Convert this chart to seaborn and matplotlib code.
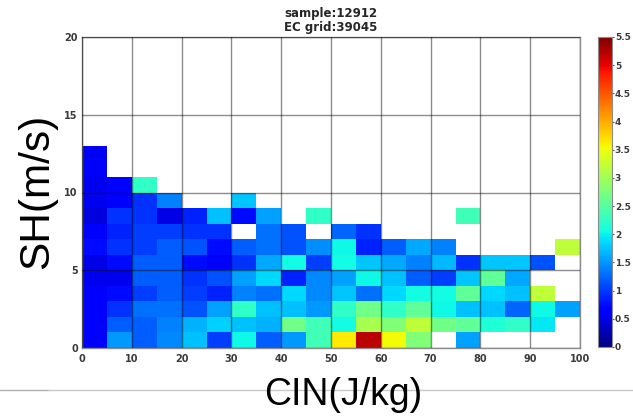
import numpy as np
import pandas as pd
import matplotlib
matplotlib.use("Agg")
import matplotlib.pyplot as plt
import seaborn as sns
from matplotlib.lines import Line2D

nan = np.nan

# bin edges
cin_edges = np.arange(0, 101, 5)      # CIN (J/kg)
sh_edges = np.arange(0, 21, 1)        # SH (m/s)

x_ticks = [0, 10, 20, 30, 40, 50, 60, 70, 80, 90, 100]
y_ticks = [0, 5, 10, 15, 20]
cbar_ticks = [0, 0.5, 1, 1.5, 2, 2.5, 3, 3.5, 4, 4.5, 5, 5.5]

title_text = "sample:12912\nEC grid:39045"
x_label = "CIN(J/kg)"
y_label = "SH(m/s)"

# cell values, one list per SH bin (bottom to top), 20 CIN bins each
sh_00 = [0.65, 1.51, 1.20, 1.42, 1.72, 1.03, 2.03, 1.20, 1.51, 2.35, 3.65, 5.20, 3.53, 2.78, nan, 1.55, nan, nan, nan, nan]
sh_01 = [0.65, 1.20, 1.20, 1.38, 1.64, 1.81, 1.72, 1.64, 2.67, 2.35, 2.06, 3.05, 2.78, 3.20, 2.67, 2.56, 2.14, 2.25, 1.94, nan]
sh_02 = [0.65, 0.95, 1.29, 1.29, 1.12, 1.55, 2.25, 1.72, 1.72, 1.51, 2.25, 2.67, 2.25, 2.56, 2.03, 1.72, 1.72, 1.24, 2.03, 1.55]
sh_03 = [0.65, 0.74, 1.03, 1.20, 1.03, 0.86, 1.38, 1.29, 1.85, 1.42, 1.76, 1.29, 1.85, 2.05, 2.05, 2.56, 1.85, 1.72, 3.20, nan]
sh_04 = [0.55, 0.55, 1.20, 1.20, 0.95, 1.12, 1.55, 1.85, 0.86, 1.42, 1.55, 2.03, 1.72, 1.20, 1.03, 1.76, 2.56, 1.59, nan, nan]
sh_05 = [0.50, 0.74, 1.20, 1.20, 0.74, 0.65, 0.95, 1.59, 2.06, 1.03, 2.06, 1.76, 1.59, 1.38, 1.68, 0.95, 1.76, 1.76, 1.12, nan]
sh_06 = [0.74, 0.95, 1.03, 1.20, 1.12, 0.74, 1.20, 1.29, 1.12, 1.46, 2.03, 0.86, 1.20, 1.59, 1.38, nan, nan, nan, nan, 3.20]
sh_07 = [0.65, 0.86, 1.03, 1.03, 0.95, 0.95, nan, 1.29, 1.12, nan, 1.24, 0.95, nan, nan, nan, nan, nan, nan, nan, nan]
sh_08 = [0.46, 0.95, 0.95, 0.50, 0.86, 1.72, 0.74, 1.55, nan, 2.25, nan, nan, nan, nan, nan, 2.35, nan, nan, nan, nan]
sh_09 = [0.55, 0.65, 0.95, 1.38, nan, nan, 1.76, nan, nan, nan, nan, nan, nan, nan, nan, nan, nan, nan, nan, nan]
sh_10 = [0.55, 0.62, 2.25, nan, nan, nan, nan, nan, nan, nan, nan, nan, nan, nan, nan, nan, nan, nan, nan, nan]
sh_11 = [0.60, nan, nan, nan, nan, nan, nan, nan, nan, nan, nan, nan, nan, nan, nan, nan, nan, nan, nan, nan]
sh_12 = [0.58, nan, nan, nan, nan, nan, nan, nan, nan, nan, nan, nan, nan, nan, nan, nan, nan, nan, nan, nan]

rows = [sh_00, sh_01, sh_02, sh_03, sh_04, sh_05, sh_06, sh_07, sh_08, sh_09, sh_10, sh_11, sh_12]

cin_centers = (cin_edges[:-1] + cin_edges[1:]) / 2
sh_centers = (sh_edges[:-1] + sh_edges[1:]) / 2

recs = []
for i, row in enumerate(rows):
    for j, v in enumerate(row):
        if not np.isnan(v):
            recs.append({"cin": cin_centers[j], "sh": sh_centers[i], "value": v})
df = pd.DataFrame(recs)

sns.set_style("white")
plt.rcParams["font.family"] = ["DejaVu Sans"]

fig = plt.figure(figsize=(6.33, 4.18), dpi=100)
W, H = 633, 418
ax = fig.add_axes([82 / W, 1 - 348 / H, (580 - 82) / W, (348 - 37) / H])
cax = fig.add_axes([598 / W, 1 - 347 / H, 14 / W, (347 - 37) / H])

jet = matplotlib.colormaps["jet"]
sns.histplot(data=df, x="cin", y="sh", weights="value",
             bins=[cin_edges, sh_edges], cmap=jet, vmin=0, vmax=5.5,
             thresh=0, cbar=True, cbar_ax=cax, ax=ax)

ax.set_xlim(0, 100)
ax.set_ylim(0, 20)
ax.set_xticks(x_ticks)
ax.set_yticks(y_ticks)
ax.set_xticklabels([str(t) for t in x_ticks])
ax.set_yticklabels([str(t) for t in y_ticks])
ax.set_xlabel("")
ax.set_ylabel("")
ax.tick_params(length=0, labelsize=7, labelcolor="#3a3a3a")
ax.tick_params(axis="x", pad=4)
ax.tick_params(axis="y", pad=3)
for lab in ax.get_xticklabels() + ax.get_yticklabels():
    lab.set_fontweight("bold")
ax.set_axisbelow(False)
ax.grid(True, color="black", alpha=0.45, lw=1)
for s in ax.spines.values():
    s.set_color("#8c8c8c")
    s.set_linewidth(1)

ax.set_title(title_text, fontsize=8.5, fontweight="bold", pad=4, linespacing=1.15)

cax.set_yticks(cbar_ticks)
cax.set_yticklabels([f"{t:g}" for t in cbar_ticks])
cax.tick_params(length=1.5, width=0.8, color="#555555", labelsize=6.5,
                labelcolor="#3a3a3a", pad=0.5)
for lab in cax.get_yticklabels():
    lab.set_fontweight("bold")
cax.set_ylabel("")
for s in cax.spines.values():
    s.set_color("#8c8c8c")

# horizontal rule across figure
fig.add_artist(Line2D([0, 48 / W], [1 - 390 / H, 1 - 390 / H], transform=fig.transFigure,
                      color="#b0b0b0", lw=1))
fig.add_artist(Line2D([48 / W, 1], [1 - 390 / H, 1 - 390 / H], transform=fig.transFigure,
                      color="#c8c8c8", lw=1))

fig.text(343 / W, 1 - 405 / H, x_label, fontsize=27, family=["Liberation Sans", "DejaVu Sans"],
         ha="center", va="baseline", color="black")
fig.text(37 / W, 1 - 191 / H, y_label, fontsize=30.5, family=["Liberation Sans", "DejaVu Sans"],
         ha="center", va="center", rotation=90, color="black")

fig.savefig("out.png", dpi=100)
